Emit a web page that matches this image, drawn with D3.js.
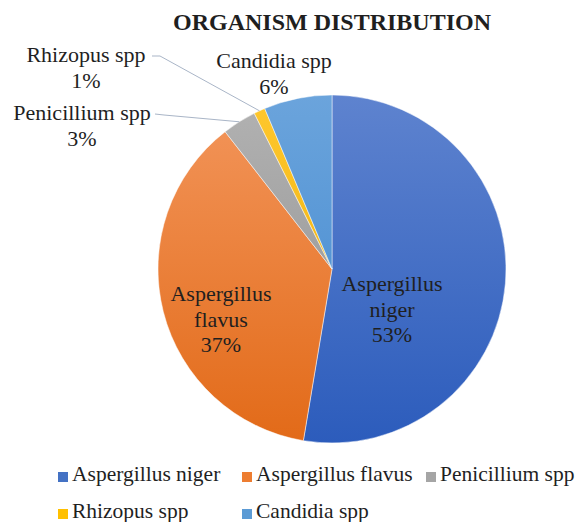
<!DOCTYPE html>
<html>
<head>
<meta charset="utf-8">
<script src="https://cdn.jsdelivr.net/npm/d3@7"></script>
<style>
  body { margin: 0; background: #fff; }
  svg, text, tspan { font-family: "Liberation Serif", "DejaVu Serif", serif; }
  text { fill: #1f1f1f; }
</style>
</head>
<body>
<div class="pieContainer"></div>
<script>
// data (counts give 53/37/3/1/6 %)
var categories = ["Aspergillus niger", "Aspergillus flavus", "Penicillium spp", "Rhizopus spp", "Candidia spp"];
var counts = [50, 35, 3, 1, 6];
var colorsTop = ["#5e83cf", "#f3965c", "#b2b2b2", "#ffc82e", "#6ba4dc"];
var colorsBottom = ["#2c5cbc", "#e26a18", "#8e8e8e", "#e8a800", "#3e86ce"];
var colorsFlat = ["#4472c4", "#ed7d31", "#a5a5a5", "#ffc000", "#5b9bd5"];

var width = 577, height = 522;
var cx = 332, cy = 269, radius = 174;

var svg = d3.select(".pieContainer")
    .append("svg")
    .attr("width", width)
    .attr("height", height)
    .attr("font-family", "Liberation Serif, serif");

var defs = svg.append("defs");
categories.forEach(function (c, i) {
    var g = defs.append("linearGradient")
        .attr("id", "grad" + i)
        .attr("gradientUnits", "userSpaceOnUse")
        .attr("x1", 0).attr("y1", -radius)
        .attr("x2", 0).attr("y2", radius);
    g.append("stop").attr("offset", "0%").attr("stop-color", colorsTop[i]);
    g.append("stop").attr("offset", "100%").attr("stop-color", colorsBottom[i]);
});

svg.append("text")
    .attr("x", 332)
    .attr("y", 30)
    .attr("text-anchor", "middle")
    .style("font-size", "24px")
    .style("font-weight", "bold")
    .text("ORGANISM DISTRIBUTION");

var total = d3.sum(counts);
var pie = d3.pie().sort(null).value(function (d) { return d; });
var arc = d3.arc().innerRadius(0).outerRadius(radius);
var arcs = pie(counts);

var g = svg.append("g").attr("transform", "translate(" + cx + "," + cy + ")");

g.selectAll("path")
    .data(arcs)
    .enter()
    .append("path")
    .attr("d", arc)
    .attr("fill", function (d, i) {
        return "url(#grad" + i + ")";
    })
    .attr("stroke", "#ffffff")
    .attr("stroke-opacity", 0.6)
    .attr("stroke-width", 0.8);

// label layout (positions relative to page)
var labelPos = [
    { x: 392, y: 291, lines: ["Aspergillus", "niger"] },
    { x: 221, y: 301, lines: ["Aspergillus", "flavus"] },
    { x: 82, y: 120, lines: ["Penicillium spp"], leader: [[155, 114], [164, 115]] },
    { x: 86, y: 62, lines: ["Rhizopus spp"], leader: [[152, 56], [160, 56]] },
    { x: 274, y: 68, lines: ["Candidia spp"] }
];

var outerArc = d3.arc().innerRadius(radius).outerRadius(radius);

labelPos.forEach(function (p, i) {
    var pct = Math.round(counts[i] / total * 100) + "%";
    var t = svg.append("text")
        .attr("text-anchor", "middle")
        .style("font-size", "22px");
    p.lines.concat([pct]).forEach(function (line, k) {
        t.append("tspan")
            .attr("x", p.x)
            .attr("y", p.y + k * 25.5)
            .text(line);
    });
    if (p.leader) {
        var c = outerArc.centroid(arcs[i]);
        var pts = p.leader.concat([[cx + c[0], cy + c[1]]]);
        svg.append("path")
            .attr("d", d3.line()(pts))
            .attr("fill", "none")
            .attr("stroke", "#a9b5c7")
            .attr("stroke-width", 1);
    }
});

// legend
var legendCols = [58, 242, 426];
var legendRows = [481, 518];
var legend = svg.selectAll(".legend")
    .data(categories)
    .enter()
    .append("g")
    .attr("class", "legend")
    .attr("transform", function (d, i) {
        return "translate(" + legendCols[i % 3] + "," + legendRows[Math.floor(i / 3)] + ")";
    });

legend.append("rect")
    .attr("x", 0)
    .attr("y", -9)
    .attr("width", 10)
    .attr("height", 10)
    .attr("fill", function (d, i) { return colorsFlat[i]; });

legend.append("text")
    .attr("x", 14)
    .attr("y", 0)
    .style("font-size", "21.5px")
    .text(function (d) { return d; });
</script>
</body>
</html>
